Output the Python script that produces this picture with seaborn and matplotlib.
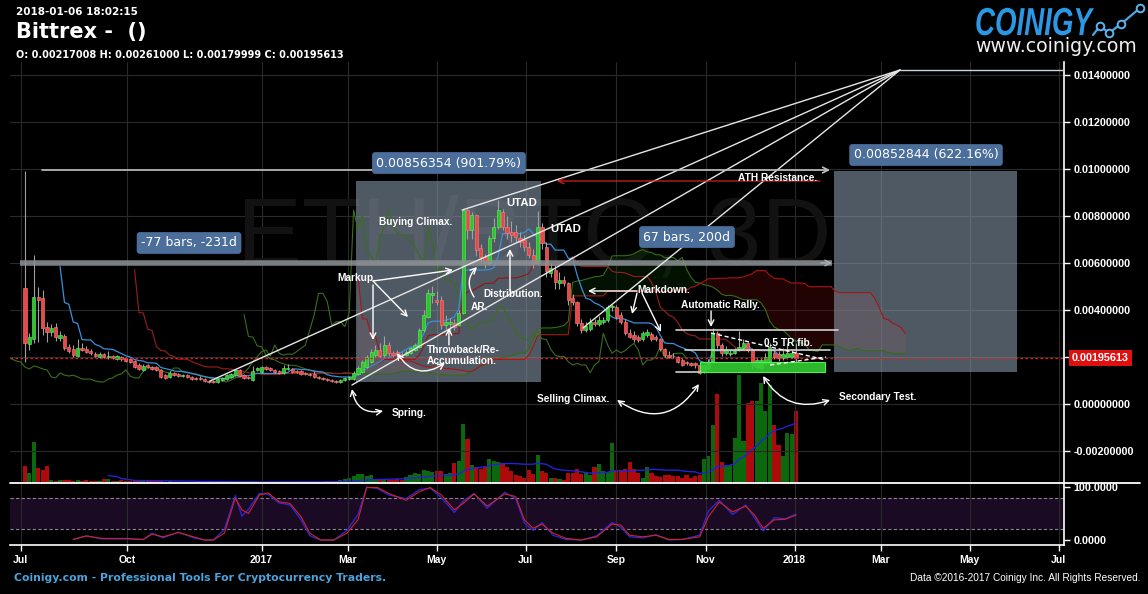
import numpy as np
import pandas as pd
import seaborn as sns
import matplotlib
matplotlib.use("Agg")
import matplotlib.pyplot as plt
from matplotlib.patches import Rectangle, PathPatch
from matplotlib.lines import Line2D
from matplotlib.textpath import TextPath
from matplotlib.font_manager import FontProperties
from matplotlib import transforms

# ETH/BTC on Bittrex, 3 day candles, first bar on 2016-07-23
first_bar = "2016-07-23"
bar_days = 3

opens = [
    .00494, .00255, .00277, .00455, .00451, .00328, .00306, .00328, .00281, .00289,
    .00243, .00234, .00204, .00238, .00234, .00226, .00213, .00200, .00213, .00200,
    .00204, .00191, .00200, .00196, .00191, .00183, .00166, .00145, .00166, .00157,
    .00157, .00145, .00123, .00115, .00132, .00128, .00119, .00123, .00115, .00111,
    .00111, .00106, .00098, .00098, .00094, .00102, .00106, .00115, .00123, .00145,
    .00123, .00115, .00102, .00145, .00136, .00157, .00153, .00145, .00140, .00132,
    .00149, .00149, .00140, .00140, .00132, .00128, .00128, .00115, .00111, .00106,
    .00102, .00098, .00094, .00102, .00106, .00105, .00128, .00137, .00159, .00180,
    .00208, .00230, .00208, .00251, .00218, .00221, .00213, .00208, .00216, .00230,
    .00244, .00315, .00371, .00464, .00443, .00443, .00336, .00340, .00343, .00336,
    .00388, .00825, .00740, .00804, .00662, .00627, .00599, .00705, .00754, .00818,
    .00754, .00733, .00733, .00705, .00698, .00669, .00634, .00599, .00754, .00669,
    .00557, .00570, .00514, .00528, .00514, .00450, .00435, .00343, .00315, .00318,
    .00350, .00340, .00350, .00357, .00411, .00414, .00379, .00350, .00301, .00294,
    .00286, .00275, .00294, .00298, .00286, .00275, .00233, .00208, .00204, .00201,
    .00187, .00180, .00173, .00173, .00166, .00137, .00152, .00180, .00301, .00251,
    .00216, .00213, .00218, .00230, .00237, .00258, .00230, .00159, .00152, .00173,
    .00173, .00216, .00213, .00194, .00199, .00201, .00217008,
]
highs = [
    .00990, .00302, .00634, .00498, .00485, .00349, .00340, .00345, .00310, .00298,
    .00255, .00250, .00275, .00260, .00245, .00232, .00220, .00220, .00218, .00225,
    .00210, .00210, .00206, .00200, .00195, .00187, .00175, .00170, .00172, .00162,
    .00160, .00150, .00128, .00140, .00136, .00132, .00128, .00128, .00119, .00115,
    .00119, .00111, .00102, .00102, .00111, .00115, .00128, .00132, .00150, .00150,
    .00128, .00119, .00162, .00157, .00162, .00162, .00157, .00149, .00145, .00166,
    .00170, .00153, .00145, .00145, .00136, .00132, .00140, .00119, .00115, .00111,
    .00106, .00102, .00106, .00115, .00119, .00140, .00160, .00187, .00210, .00235,
    .00250, .00260, .00290, .00262, .00225, .00230, .00220, .00230, .00242, .00258,
    .00325, .00400, .00490, .00500, .00480, .00460, .00380, .00365, .00360, .00400,
    .00830, .00830, .00815, .00810, .00680, .00640, .00720, .00790, .00870, .00830,
    .00800, .00780, .00760, .00730, .00720, .00690, .00660, .00820, .00770, .00690,
    .00600, .00590, .00560, .00545, .00520, .00470, .00440, .00360, .00350, .00365,
    .00360, .00375, .00370, .00420, .00425, .00420, .00390, .00360, .00320, .00310,
    .00295, .00310, .00320, .00305, .00295, .00280, .00240, .00225, .00215, .00206,
    .00195, .00185, .00180, .00178, .00175, .00170, .00190, .00325, .00310, .00260,
    .00245, .00230, .00240, .00310, .00275, .00265, .00240, .00200, .00200, .00215,
    .00260, .00230, .00225, .00240, .00260, .00235, .00261000,
]
lows = [
    .00180, .00230, .00260, .00264, .00294, .00264, .00290, .00270, .00270, .00230,
    .00215, .00200, .00200, .00225, .00215, .00210, .00198, .00196, .00195, .00192,
    .00190, .00187, .00185, .00179, .00175, .00153, .00145, .00140, .00153, .00145,
    .00140, .00111, .00106, .00111, .00119, .00115, .00115, .00111, .00102, .00102,
    .00100, .00094, .00090, .00090, .00090, .00098, .00102, .00111, .00119, .00115,
    .00106, .00106, .00098, .00140, .00132, .00145, .00140, .00132, .00128, .00128,
    .00145, .00132, .00132, .00123, .00123, .00119, .00111, .00106, .00102, .00096,
    .00094, .00090, .00090, .00098, .00102, .00100, .00123, .00132, .00153, .00175,
    .00200, .00196, .00200, .00204, .00200, .00206, .00206, .00204, .00212, .00225,
    .00240, .00308, .00365, .00430, .00420, .00320, .00320, .00310, .00315, .00330,
    .00385, .00700, .00700, .00630, .00600, .00580, .00590, .00690, .00745, .00740,
    .00700, .00690, .00690, .00670, .00650, .00620, .00580, .00590, .00660, .00540,
    .00540, .00490, .00490, .00500, .00420, .00420, .00330, .00300, .00305, .00310,
    .00330, .00330, .00340, .00350, .00395, .00360, .00340, .00295, .00280, .00265,
    .00265, .00270, .00285, .00270, .00268, .00225, .00200, .00195, .00195, .00175,
    .00160, .00168, .00160, .00155, .00128, .00130, .00145, .00175, .00240, .00205,
    .00210, .00205, .00212, .00225, .00230, .00220, .00150, .00150, .00145, .00165,
    .00168, .00190, .00185, .00188, .00190, .00195, .00179999,
]
closes = [
    .00260, .00285, .00455, .00443, .00323, .00306, .00323, .00285, .00294, .00238,
    .00226, .00209, .00238, .00230, .00221, .00217, .00204, .00213, .00200, .00204,
    .00196, .00204, .00191, .00183, .00179, .00157, .00149, .00162, .00157, .00149,
    .00145, .00115, .00111, .00132, .00123, .00119, .00123, .00115, .00106, .00106,
    .00106, .00098, .00094, .00094, .00106, .00111, .00123, .00128, .00145, .00119,
    .00111, .00111, .00140, .00153, .00157, .00149, .00145, .00136, .00132, .00153,
    .00153, .00136, .00136, .00128, .00128, .00123, .00115, .00111, .00106, .00100,
    .00098, .00094, .00102, .00111, .00115, .00133, .00152, .00180, .00201, .00223,
    .00230, .00204, .00251, .00216, .00208, .00213, .00211, .00223, .00237, .00251,
    .00315, .00379, .00471, .00471, .00435, .00336, .00350, .00350, .00329, .00388,
    .00825, .00740, .00804, .00655, .00627, .00599, .00705, .00754, .00825, .00754,
    .00726, .00719, .00712, .00691, .00669, .00634, .00599, .00754, .00684, .00565,
    .00579, .00520, .00528, .00514, .00443, .00435, .00343, .00315, .00332, .00350,
    .00340, .00357, .00357, .00414, .00417, .00371, .00350, .00301, .00286, .00275,
    .00272, .00301, .00308, .00277, .00275, .00233, .00208, .00201, .00203, .00180,
    .00166, .00173, .00166, .00166, .00133, .00166, .00180, .00301, .00251, .00216,
    .00230, .00218, .00227, .00244, .00258, .00230, .00166, .00187, .00187, .00201,
    .00244, .00199, .00194, .00213, .00216, .00216, .00195613,
]
# volume pane has its own scale, units are arbitrary
volumes = [
    17, 10, 41, 15, 13, 17, 3, 2, 3, 3,
    3, 2, 3, 2, 3, 2, 2, 2, 4, 4,
    2, 2, 3, 2, 2, 2, 2, 2, 2, 2,
    2, 2, 1, 2, 1, 1, 1, 1, 1, 1,
    1, 1, 1, 1, 1, 1, 1, 1, 1, 1,
    1, 1, 2, 1, 1, 1, 1, 1, 1, 1,
    1, 1, 1, 1, 1, 1, 1, 1, 1, 2,
    2, 2, 3, 4, 5, 7, 9, 9, 7, 8,
    3, 3, 4, 3, 3, 4, 3, 6, 8, 10,
    9, 13, 12, 11, 12, 12, 9, 10, 20, 22,
    59, 44, 18, 16, 14, 16, 24, 22, 21, 20,
    16, 12, 8, 7, 5, 13, 9, 28, 12, 10,
    5, 5, 4, 3, 10, 10, 14, 9, 10, 8,
    16, 19, 12, 11, 40, 12, 12, 14, 21, 14,
    10, 5, 16, 10, 7, 6, 8, 8, 7, 7,
    5, 8, 5, 7, 8, 24, 27, 58, 89, 21,
    18, 18, 45, 108, 42, 80, 82, 82, 100, 72,
    98, 58, 38, 27, 50, 49, 72,
]

# stoch RSI pane, read at these bar numbers
stoch_bar = [11, 14, 17.5, 23, 27, 29, 31.5, 35, 38.5, 41,
             43, 45.5, 48, 49.5, 51, 53.5, 55.5, 58, 60.5, 63,
             65, 67.5, 70.5, 73.5, 76, 78, 80.5, 83, 87, 90,
             92.5, 95, 98, 100, 102.5, 105.5, 109.5, 112, 114, 116,
             118, 120.5, 123.5, 127, 130.5, 134, 136, 138, 141, 144,
             147, 150, 154, 156, 158.5, 161.5, 164.5, 166.5, 168.5, 171,
             173.5, 176]
stoch_k = [1, 8, 2, 2, 1, 13, 4, 15, 4, 0,
           0, 20, 84, 45, 58, 88, 86, 70, 66, 38,
           8, 0, 0, 18, 48, 100, 97, 85, 78, 95,
           98, 80, 52, 73, 88, 60, 90, 78, 32, 18,
           33, 9, 1, 0, 8, 33, 24, 6, 4, 10,
           0, 1, 9, 55, 75, 48, 66, 42, 17, 42,
           40, 49]
stoch_d = [1, 7.5, 3, 3, 1, 11, 6, 14, 6, 0,
           0, 13, 79, 57, 50, 85, 89, 72, 69, 44,
           13, 0, 0, 13, 38, 99, 99, 88, 75, 91,
           99, 85, 57, 69, 87, 64, 87, 82, 38, 22,
           30, 13, 3, 0, 6, 30, 28, 9, 6, 9,
           1, 1, 6, 44, 72, 53, 64, 47, 22, 38,
           39, 47]

tick_dates = ["2016-07-20", "2016-10-01", "2017-01-01", "2017-03-01", "2017-05-01", "2017-07-01",
              "2017-09-01", "2017-11-01", "2018-01-01", "2018-03-01", "2018-05-01", "2018-07-01"]
tick_labels = ["Jul", "Oct", "2017", "Mar", "May", "Jul", "Sep", "Nov", "2018", "Mar", "May", "Jul"]
price_ticks = [-0.002, 0.0, 0.002, 0.004, 0.006, 0.008, 0.010, 0.012, 0.014]

sns.set_style("dark", {"axes.facecolor": "black", "figure.facecolor": "black",
                       "text.color": "white", "xtick.color": "white", "ytick.color": "white"})
plt.rcParams['font.family'] = ['Liberation Sans', 'DejaVu Sans']

W, H = 1148, 594
o = np.array(opens); h = np.array(highs); l = np.array(lows); c = np.array(closes)
vol = np.array(volumes, dtype=float)
n = len(c)
start = pd.Timestamp(first_bar)
day = np.arange(n) * bar_days
up = c >= o

# ichimoku 9/26/52, cloud pushed 25 bars ahead, lagging line 25 bars back
hs, ls = pd.Series(h), pd.Series(l)
tenkan = (hs.rolling(9).max() + ls.rolling(9).min()) / 2
kijun = (hs.rolling(26).max() + ls.rolling(26).min()) / 2
span_a = ((tenkan + kijun) / 2).values
span_b = ((hs.rolling(52).max() + ls.rolling(52).min()) / 2).values
shift = 25 * bar_days
vol_ma = pd.Series(vol).rolling(20).mean()

fig = plt.figure(figsize=(W / 100, H / 100), dpi=100, facecolor="black")
ax = fig.add_axes([10 / W, 1 - 483 / H, 1054 / W, 421 / H])
vax = ax.twinx()
ax.set_zorder(vax.get_zorder() + 1)
ax.patch.set_visible(False)
osc = fig.add_axes([10 / W, 1 - 545 / H, 1054 / W, 61 / H])

xmin, xmax = -10.3, 711.5
tick_days = [(pd.Timestamp(d) - start).days for d in tick_dates]

# volume
vcol = np.where(up, "#0c680c", "#ad0b0b")
vax.bar(day, vol, width=2.8, color=vcol, linewidth=0)
sns.lineplot(x=day, y=vol_ma, ax=vax, color="#2222d8", lw=1.0)
vax.set_ylim(0, 421)
vax.set_yticks([])
vax.set_ylabel("")
for s in vax.spines.values():
    s.set_visible(False)

# watermark
ax.text(145.2, 0.00698, "ETH/BTC, 3D", fontsize=70, color="#121212", ha="left", va="center", zorder=0.6)

# cloud and ichimoku lines
ax.fill_between(day + shift, span_a, span_b, where=span_b >= span_a, interpolate=True,
                color="#4a0808", alpha=0.45, lw=0, zorder=2)
ax.fill_between(day + shift, span_a, span_b, where=span_a > span_b, interpolate=True,
                color="#0b330b", alpha=0.35, lw=0, zorder=2)
sns.lineplot(x=day + shift, y=span_a, ax=ax, color="#356d16", lw=0.8, zorder=4)
sns.lineplot(x=day + shift, y=span_b, ax=ax, color="#a51616", lw=0.8, zorder=4)
sns.lineplot(x=day - shift, y=c, ax=ax, color="#3b6e1a", lw=0.8, zorder=4)
sns.lineplot(x=day, y=kijun, ax=ax, color="#8a1d1d", lw=0.9, zorder=4)
sns.lineplot(x=day, y=tenkan, ax=ax, color="#3a8fd8", lw=0.9, zorder=4)

# range boxes
ax.add_patch(Rectangle((226.7, 0.00095), 353.3 - 226.7, 0.00951 - 0.00095,
                       fc="#8a9aab", alpha=0.58, lw=0, zorder=3))
ax.add_patch(Rectangle((554.0, 0.00137), 679.3 - 554.0, 0.0099 - 0.00137,
                       fc="#8a9aab", alpha=0.58, lw=0, zorder=3))

# candles
ax.vlines(day, l, h, color="#a0a0a0", lw=0.8, zorder=5)
body_lo = np.minimum(o, c)
body_h = np.maximum(np.abs(c - o), 0.000025)
ax.bar(day[up], body_h[up], bottom=body_lo[up], width=2.2, color="#27c827",
       edgecolor="#6af06a", linewidth=0.4, zorder=6)
ax.bar(day[~up], body_h[~up], bottom=body_lo[~up], width=2.2, color="#e84848",
       edgecolor="#ff8080", linewidth=0.4, zorder=6)

# last price
last = closes[-1]
ax.axhline(last, color="#e02020", ls=(0, (2, 2)), lw=0.9, zorder=7)
ax.text(1062 / 1054, last, f"{last:.8f}", transform=transforms.blended_transform_factory(ax.transAxes, ax.transData),
        color="white", fontsize=7.8, fontweight="bold", ha="left", va="center", clip_on=False,
        bbox=dict(boxstyle="square,pad=0.3", fc="#e01010", ec="none"), zorder=12)

# drawings
def note(x, y, s, size=7.3):
    ax.text(x, y, s, color="white", fontsize=size, fontweight="bold", ha="left", va="center", zorder=9)

def arrow(x0, y0, x1, y1, style="->", rad=0.0, color="white", lw=1.0):
    ax.annotate("", xy=(x1, y1), xytext=(x0, y0), zorder=9,
                arrowprops=dict(arrowstyle=style, color=color, lw=lw, shrinkA=0, shrinkB=0,
                                connectionstyle=f"arc3,rad={rad}"))

def tag(x, y, s):
    ax.text(x, y, s, color="white", fontsize=9, family="DejaVu Sans", ha="center", va="center", zorder=10,
            bbox=dict(boxstyle="round,pad=0.35,rounding_size=0.25", fc="#4b6e9b", ec="none"))

ax.plot([-3.4, 552.6], [0.006, 0.006], color="#8e9296", lw=4, alpha=0.85, solid_capstyle="butt", zorder=7)
arrow(545, 0.006, 552.6, 0.006, color="#b0b0b0")
arrow(11.6, 0.009957, 551.3, 0.009957, color="#c0c0c0", lw=1.2)
arrow(544.4, 0.009489, 364.3, 0.009489, color="#d42020", lw=0.9)

apex = (599.2, 0.014213)
for ex, ey in [(126.7, 0.000979), (223.9, 0.000809), (299.3, 0.008255), (382.1, 0.003234)]:
    ax.plot([ex, apex[0]], [ey, apex[1]], color="#e6e6e6", lw=1.0, zorder=8)
ax.plot([apex[0], xmax], [apex[1], apex[1]], color="#c8d0d8", lw=1.0, zorder=8)

ax.add_patch(Rectangle((462.2, 0.001362), 547.8 - 462.2, 0.001787 - 0.001362,
                       fc="#33cc33", ec="#55ff55", lw=0.8, alpha=0.9, zorder=7))
ax.plot([445.8, 556.7], [0.003149, 0.003149], color="#d0d0d0", lw=1.2, zorder=8)
ax.plot([452.0, 551.3], [0.002298, 0.002298], color="#d0d0d0", lw=1.2, zorder=8)
ax.plot([445.8, 462.2], [0.001362, 0.001362], color="#d0d0d0", lw=1.2, zorder=8)
ax.plot([469.8, 548.5], [0.003021, 0.001872], color="white", lw=1.0, ls=(0, (3, 2)), zorder=8)
ax.plot([510.2, 548.5], [0.00166, 0.002], color="white", lw=1.0, ls=(0, (3, 2)), zorder=8)

tag(290.3, 0.010255, "0.00856354 (901.79%)")
tag(617.0, 0.010596, "0.00852844 (622.16%)")
tag(112.3, 0.006851, "-77 bars, -231d")
tag(453.3, 0.007106, "67 bars, 200d")

note(242.4, 0.007745, "Buying Climax.")
note(329.4, 0.008553, "UTAD", 8.2)
note(359.5, 0.007447, "UTAD", 8.2)
note(213.7, 0.005362, "Markup.")
note(313.6, 0.004681, "Distribution.")
note(305.4, 0.004128, "AR.")
note(275.3, 0.002298, "Throwback/Re-")
note(275.3, 0.00183, "Accumulation.")
note(251.3, -0.000383, "Spring.")
note(350.6, 0.000213, "Selling Climax.")
note(419.1, 0.004851, "Markdown.")
note(449.2, 0.004213, "Automatic Rally.")
note(506.1, 0.002596, "0.5 TR fib.")
note(557.4, 0.000298, "Secondary Test.")
note(488.3, 0.009617, "ATH Resistance.")

arrow(238.3, 0.005234, 293.1, 0.005702)
arrow(238.3, 0.005234, 262.3, 0.003702)
arrow(238.3, 0.005064, 238.3, 0.002723)
arrow(332.1, 0.004809, 332.1, 0.006596)
arrow(307.5, 0.004553, 309.5, 0.00583, rad=-0.4)
arrow(290.3, 0.002511, 290.3, 0.003234)
arrow(254.7, 0.00217, 287.6, 0.001745, style="<->", rad=0.5)
arrow(223.9, 0.000638, 245.2, -0.000298, style="<->", rad=0.5)
arrow(405.4, 0.00017, 461.5, 0.000851, style="<->", rad=0.5)
arrow(419.1, 0.004809, 385.5, 0.004809)
arrow(419.1, 0.00472, 415.7, 0.00383)
arrow(422.5, 0.00472, 435.5, 0.003064)
arrow(469.8, 0.003957, 469.8, 0.003277)
arrow(505.4, 0.001191, 551.3, 0.00017, style="<->", rad=0.4)

# main pane axes
ax.set_xlim(xmin, xmax)
ax.set_ylim(-0.003362, 0.014553)
ax.set_xticks(tick_days)
ax.set_yticks(price_ticks)
ax.set_yticklabels(["" if abs(v - 0.002) < 1e-9 else f"{v:.8f}" for v in price_ticks],
                   fontsize=7.8, fontweight="bold", color="white")
ax.yaxis.tick_right()
ax.tick_params(axis="y", right=True, labelright=True, left=False, labelleft=False,
               length=4, width=1, pad=3, colors="white")
ax.tick_params(axis="x", bottom=False, labelbottom=False)
ax.set_axisbelow(True)
ax.grid(True, color="#2a2a2a", lw=0.8)
ax.set_xlabel("")
ax.set_ylabel("")
for k, s in ax.spines.items():
    s.set_visible(k == "right")
ax.spines["right"].set_color("white")
ax.spines["right"].set_linewidth(1.2)

# stoch RSI pane
osc.axhspan(20, 80, color="#1b0a24", lw=0, zorder=0.4)
osc.axhline(80, color="#8e7f9a", ls=(0, (3, 2)), lw=0.8)
osc.axhline(20, color="#8e7f9a", ls=(0, (3, 2)), lw=0.8)
sdays = np.array(stoch_bar) * bar_days
sns.lineplot(x=sdays, y=stoch_k, ax=osc, color="#2a2ae0", lw=0.9)
sns.lineplot(x=sdays, y=stoch_d, ax=osc, color="#d42222", lw=0.8)
osc.set_xlim(xmin, xmax)
osc.set_ylim(-9.43, 105.66)
osc.set_xticks(tick_days)
osc.set_xticklabels(tick_labels, fontsize=7.5, fontweight="bold", color="white")
osc.set_yticks([0, 100])
osc.set_yticklabels(["0.0000", "100.0000"], fontsize=7.8, fontweight="bold", color="white")
osc.yaxis.tick_right()
osc.tick_params(axis="y", right=True, labelright=True, left=False, labelleft=False,
                length=4, width=1, pad=3, colors="white")
osc.tick_params(axis="x", bottom=True, length=4, width=1, pad=3, colors="white")
osc.set_axisbelow(True)
osc.grid(True, axis="x", color="#2a2a2a", lw=0.8)
osc.set_xlabel("")
osc.set_ylabel("")
for k, s in osc.spines.items():
    s.set_visible(k in ("right", "bottom"))
    s.set_color("white")
    s.set_linewidth(1.2)

fig.add_artist(Line2D([10 / W, 1140 / W], [1 - 483 / H, 1 - 483 / H], transform=fig.transFigure,
                      color="white", lw=1.3))

# header
fig.text(16 / W, 1 - 12 / H, "2018-01-06 18:02:15", color="white", fontsize=7.5,
         fontweight="bold", family="DejaVu Sans", va="center")
fig.text(16 / W, 1 - 32 / H, "Bittrex -  ()", color="white", fontsize=15,
         fontweight="bold", family="DejaVu Sans", va="center")
fig.text(16 / W, 1 - 55 / H, "O: 0.00217008 H: 0.00261000 L: 0.00179999 C: 0.00195613",
         color="white", fontsize=7, fontweight="bold", family="DejaVu Sans", va="center")

# logo
tp = TextPath((0, 0), "COINIGY", size=39,
              prop=FontProperties(family="Liberation Sans", weight="bold", style="italic"))
fig.add_artist(PathPatch(tp, fc="#2b98e6", ec="none",
                         transform=transforms.Affine2D().scale(0.71, 1.0).translate(975, H - 35)))
lx = [1093, 1100, 1109, 1121, 1140]
ly = [H - 35, H - 26, H - 33, H - 24, H - 8]
fig.add_artist(Line2D(lx, ly, transform=transforms.IdentityTransform(), color="#4aa8e8", lw=1.6))
fig.add_artist(Line2D(lx[1:], ly[1:], transform=transforms.IdentityTransform(), ls="none",
                      marker="o", ms=5.5, mfc="black", mec="#5ab4ee", mew=1.4))
fig.text(975 / W, 1 - 47 / H, "www.coinigy.com", color="#f0f0f0", fontsize=13.6,
         family="DejaVu Sans", va="center")

# footer
fig.text(14 / W, 1 - 578 / H, "Coinigy.com - Professional Tools For Cryptocurrency Traders.",
         color="#4aa3dc", fontsize=7.8, fontweight="bold", family="DejaVu Sans", va="center")
fig.text(1140 / W, 1 - 578 / H, "Data \u00a92016-2017 Coinigy Inc. All Rights Reserved.",
         color="white", fontsize=7.3, ha="right", va="center")

fig.savefig("out.png", dpi=100, facecolor="black")
